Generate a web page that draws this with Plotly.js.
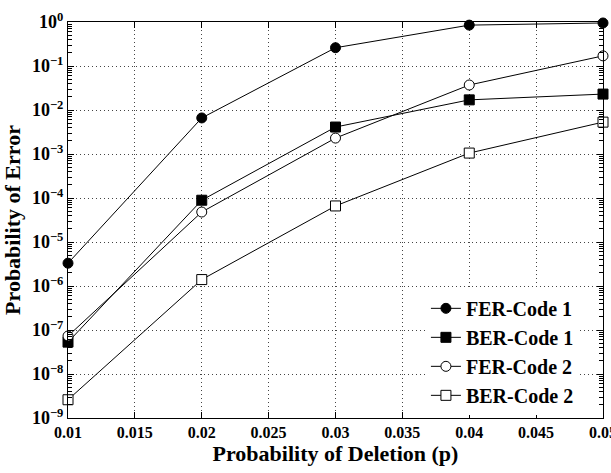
<!DOCTYPE html>
<html><head><meta charset="utf-8">
<script src="https://cdn.plot.ly/plotly-3.0.1.min.js"></script>
<style>body{margin:0;background:#fff}#c{width:611px;height:473px}</style>
</head><body><div id="c"></div>
<script>
const p = [0.01, 0.02, 0.03, 0.04, 0.05];
const ferCode1 = [3.3e-6, 6.6e-3, 0.26, 0.85, 0.95];
const berCode1 = [5.3e-8, 8.9e-5, 4.1e-3, 0.017, 0.023];
const ferCode2 = [7.3e-8, 4.8e-5, 2.3e-3, 0.037, 0.17];
const berCode2 = [2.6e-9, 1.4e-6, 6.6e-5, 1.05e-3, 5.3e-3];
const xTicks = [0.01, 0.015, 0.02, 0.025, 0.03, 0.035, 0.04, 0.045, 0.05];
const xTickText = ['0.01','0.015','0.02','0.025','0.03','0.035','0.04','0.045','0.05'];
const yExps = [0,-1,-2,-3,-4,-5,-6,-7,-8,-9];

const FAM = 'Liberation Serif, Times New Roman, serif';
const font = {family: FAM, color: '#000'};
function tr(name, y, sym, fill) {
  return {x: p, y: y, name: name, type: 'scatter', mode: 'lines+markers', cliponaxis: false,
    line: {color: '#000', width: 1},
    marker: {symbol: sym, size: 10, color: fill, line: {color: '#000', width: 1}}};
}
const data = [
  tr('<b>FER-Code 1</b>', ferCode1, 'circle', '#000'),
  tr('<b>BER-Code 1</b>', berCode1, 'square', '#000'),
  tr('<b>FER-Code 2</b>', ferCode2, 'circle', '#fff'),
  tr('<b>BER-Code 2</b>', berCode2, 'square', '#fff')
];
const layout = {
  width: 611, height: 473,
  margin: {l: 68, r: 8, t: 22, b: 55},
  paper_bgcolor: '#fff', plot_bgcolor: '#fff',
  font: font,
  showlegend: true,
  legend: {x: 0.955, y: 0.008, xanchor: 'right', yanchor: 'bottom', bgcolor: '#fff',
    borderwidth: 0, font: {family: FAM, size: 20, color: '#000'}, tracegroupgap: 0},
  xaxis: {
    range: [0.01, 0.0500001], tickvals: xTicks, ticktext: xTickText.map(t => '<b>' + t + '</b>'),
    tickfont: {size: 16}, ticks: 'inside', ticklen: 6, tickcolor: '#000', ticklabeloverflow: 'allow',
    showline: true, linecolor: '#000', linewidth: 1, mirror: 'ticks',
    showgrid: true, gridcolor: '#444', griddash: '1px,3px', gridwidth: 1, zeroline: false,
    title: {text: '<b>Probability of Deletion (p)</b>', font: {size: 22}, standoff: 0}
  },
  yaxis: {
    type: 'log', range: [-9, 0],
    tickvals: yExps.map(e => Math.pow(10, e)),
    ticktext: yExps.map(e => '<b>10<sup>' + (e < 0 ? '\u2212' + (-e) : e) + '</sup></b>'),
    tickfont: {size: 18}, ticks: 'inside', ticklen: 6, tickcolor: '#000', ticklabeloverflow: 'allow',
    minor: {tickmode: 'linear', dtick: 'D1', ticks: 'inside', ticklen: 4, tickcolor: '#000', tickwidth: 1, showgrid: false},
    showline: true, linecolor: '#000', linewidth: 1, mirror: 'ticks',
    showgrid: true, gridcolor: '#444', griddash: '1px,3px', gridwidth: 1, zeroline: false,
    title: {text: '<b>Probability of Error</b>', font: {size: 22}, standoff: 5}
  }
};
Plotly.newPlot('c', data, layout, {displayModeBar: false, staticPlot: true});
</script></body></html>
